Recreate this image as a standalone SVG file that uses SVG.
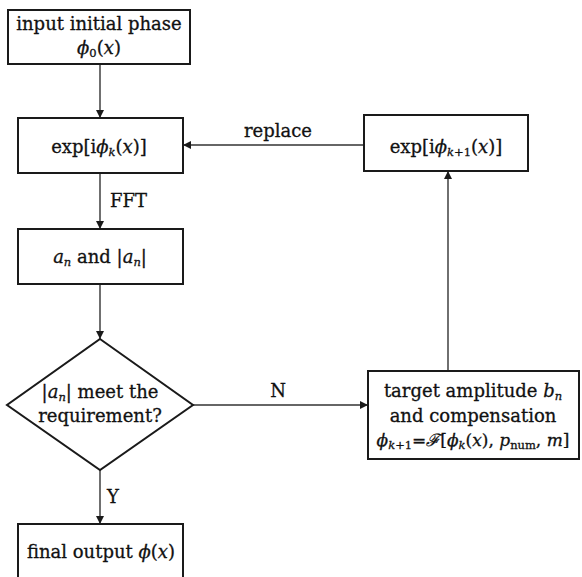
<svg xmlns="http://www.w3.org/2000/svg" width="582" height="577" viewBox="0 0 582 577">
  <style>
    .box { fill: #ffffff; stroke: #1a1a1a; stroke-width: 2; }
    .edge { fill: none; stroke: #333333; stroke-width: 1.4; }
    text { font-family: "DejaVu Serif", "Liberation Serif", serif; font-size: 18px; fill: #111111; stroke: #111111; stroke-width: 0.3; text-anchor: middle; }
    .lbl { text-anchor: start; }
    .m { font-style: italic; }
    .sub { font-size: 11.5px; font-style: italic; }
    .subr { font-size: 11.5px; }
  </style>
  <defs>
    <marker id="arrow" viewBox="0 0 10 10" refX="10" refY="5" markerWidth="8" markerHeight="8" markerUnits="userSpaceOnUse" orient="auto">
      <path d="M0,0 L10,5 L0,10 Z" fill="#1a1a1a"/>
    </marker>
  </defs>

  <rect width="582" height="577" fill="#ffffff"/>

  <!-- connectors -->
  <g id="connectors">
    <path class="edge" d="M100,64 V118" marker-end="url(#arrow)"/>
    <path class="edge" d="M100,173 V229" marker-end="url(#arrow)"/>
    <path class="edge" d="M100,284 V339" marker-end="url(#arrow)"/>
    <path class="edge" d="M100,470 V524" marker-end="url(#arrow)"/>
    <path class="edge" d="M193,405 H368" marker-end="url(#arrow)"/>
    <path class="edge" d="M448,371 V171" marker-end="url(#arrow)"/>
    <path class="edge" d="M364,145 H183" marker-end="url(#arrow)"/>
    <text class="lbl" x="110" y="207">FFT</text>
    <text x="278" y="137">replace</text>
    <text x="278" y="397">N</text>
    <text class="lbl" x="107" y="503">Y</text>
  </g>

  <!-- start node -->
  <g id="input">
    <rect class="box" x="8" y="10" width="182" height="54"/>
    <text x="99" y="30">input initial phase</text>
    <text x="99" y="54"><tspan class="m">ϕ</tspan><tspan class="subr" dy="3">0</tspan><tspan dy="-3">(</tspan><tspan class="m">x</tspan>)</text>
  </g>

  <!-- current phase -->
  <g id="phase-k">
    <rect class="box" x="18" y="118" width="165" height="55"/>
    <text x="99" y="153">exp[i<tspan class="m">ϕ</tspan><tspan class="sub" dy="3">k</tspan><tspan dy="-3">(</tspan><tspan class="m">x</tspan>)]</text>
  </g>

  <!-- spectrum -->
  <g id="spectrum">
    <rect class="box" x="18" y="229" width="165" height="55"/>
    <text x="100" y="263"><tspan class="m">a</tspan><tspan class="sub" dy="3">n</tspan><tspan dy="-3"> and |</tspan><tspan class="m">a</tspan><tspan class="sub" dy="3">n</tspan><tspan dy="-3">|</tspan></text>
  </g>

  <!-- decision -->
  <g id="check">
    <path class="box" d="M100,339 L193,405 L100,470 L7,405 Z"/>
    <text x="100" y="398">|<tspan class="m">a</tspan><tspan class="sub" dy="3">n</tspan><tspan dy="-3">| meet the</tspan></text>
    <text x="100" y="422">requirement?</text>
  </g>

  <!-- output -->
  <g id="output">
    <rect class="box" x="18" y="524" width="165" height="60"/>
    <text x="101" y="558">final output <tspan class="m">ϕ</tspan>(<tspan class="m">x</tspan>)</text>
  </g>

  <!-- compensation -->
  <g id="compensation">
    <rect class="box" x="368" y="371" width="211" height="88"/>
    <text x="473" y="397">target amplitude <tspan class="m">b</tspan><tspan class="sub" dy="3">n</tspan></text>
    <text x="473" y="422">and compensation</text>
    <text x="473" y="446" style="font-size:17px"><tspan class="m">ϕ</tspan><tspan class="sub" dy="3">k</tspan><tspan class="subr">+1</tspan><tspan dy="-3">=</tspan><tspan class="m">ℱ</tspan>[<tspan class="m">ϕ</tspan><tspan class="sub" dy="3">k</tspan><tspan dy="-3">(</tspan><tspan class="m">x</tspan>), <tspan class="m">p</tspan><tspan class="subr" dy="3">num</tspan><tspan dy="-3">, </tspan><tspan class="m">m</tspan>]</text>
  </g>

  <!-- next phase -->
  <g id="phase-k1">
    <rect class="box" x="364" y="115" width="164" height="56"/>
    <text x="446" y="153">exp[i<tspan class="m">ϕ</tspan><tspan class="sub" dy="3">k</tspan><tspan class="subr">+1</tspan><tspan dy="-3">(</tspan><tspan class="m">x</tspan>)]</text>
  </g>
</svg>
